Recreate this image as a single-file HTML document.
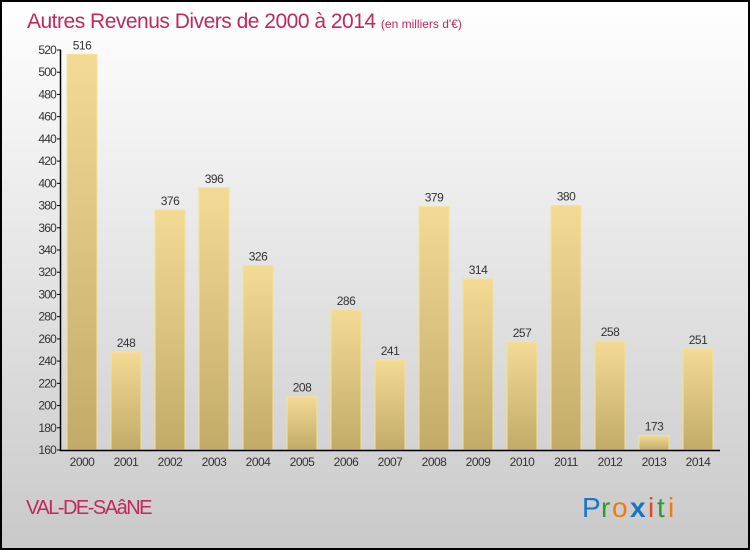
<!DOCTYPE html>
<html><head><meta charset="utf-8"><style>
body{margin:0}
svg{display:block}
text{font-family:"Liberation Sans",sans-serif}
</style></head><body>
<svg width="750" height="550" xmlns="http://www.w3.org/2000/svg">
<defs>
<linearGradient id="bg" x1="0" y1="0" x2="0" y2="1"><stop offset="0" stop-color="#ffffff"/><stop offset="1" stop-color="#c9c9c9"/></linearGradient>
<linearGradient id="bar" x1="0" y1="0" x2="0" y2="1"><stop offset="0" stop-color="#f3db96"/><stop offset="1" stop-color="#c2aa68"/></linearGradient>
</defs>
<rect x="1" y="1" width="748" height="548" fill="url(#bg)" stroke="#000" stroke-width="2"/>
<text x="27" y="28" font-size="21" fill="#c0285e" letter-spacing="-0.5">Autres Revenus Divers de 2000 à 2014 <tspan font-size="12" letter-spacing="0">(en milliers d'€)</tspan></text>
<g id="plot"></g>
<text x="26" y="514" font-size="20" fill="#c0285e" letter-spacing="-1.5">VAL-DE-SAâNE</text>
<g font-size="28" font-family="'Liberation Sans',sans-serif">
<text x="582" y="517" fill="#1a73c8">P</text><text x="601" y="517" fill="#2f9a2f">r</text><text x="612" y="517" fill="#f07a10">o</text><text x="630" y="517" fill="#1a73c8" font-weight="bold">x</text><text x="648" y="517" fill="#e04a1a">i</text><text x="657" y="517" fill="#2f9a2f">t</text><text x="668" y="517" fill="#f07a10">i</text>
</g>
</svg>
<script>
const years=["2000","2001","2002","2003","2004","2005","2006","2007","2008","2009","2010","2011","2012","2013","2014"];
const values=[516,248,376,396,326,208,286,241,379,314,257,380,258,173,251];
const yTicks=[160,180,200,220,240,260,280,300,320,340,360,380,400,420,440,460,480,500,520];
const NS="http://www.w3.org/2000/svg";
const g=document.getElementById('plot');
const y=v=>450-(v-160)*400/360;
const x=i=>82+i*44;
function el(t,a){const e=document.createElementNS(NS,t);for(const k in a)e.setAttribute(k,a[k]);g.appendChild(e);return e;}
values.forEach((v,i)=>{
 const r=el('rect',{x:x(i)-15,y:y(v),width:30,height:450-y(v),fill:'url(#bar)',stroke:'#f5e09a','stroke-width':1});
 
 
 const t=el('text',{x:x(i),y:y(v)-5,'text-anchor':'middle','font-size':12,fill:'#333','letter-spacing':'-0.5'});
 t.textContent=v;
 
 
 const xl=el('text',{x:x(i),y:466,'text-anchor':'middle','font-size':12,fill:'#333','letter-spacing':'-0.5'});
 xl.textContent=years[i];
 
 
});
yTicks.forEach(v=>{
 const l=el('line',{x1:57,x2:61,y1:y(v),y2:y(v),stroke:'#000'});
 
 
 const t=el('text',{x:56,y:y(v)+4,'text-anchor':'end','font-size':12,fill:'#333','letter-spacing':'-0.8'});
 t.textContent=v;
 
 
});
const ya=el('line',{x1:60.5,x2:60.5,y1:50,y2:451,stroke:'#000','stroke-width':1.5});


const xa=el('line',{x1:60,x2:720,y1:450.5,y2:450.5,stroke:'#000','stroke-width':1.5});


</script>
</body></html>
